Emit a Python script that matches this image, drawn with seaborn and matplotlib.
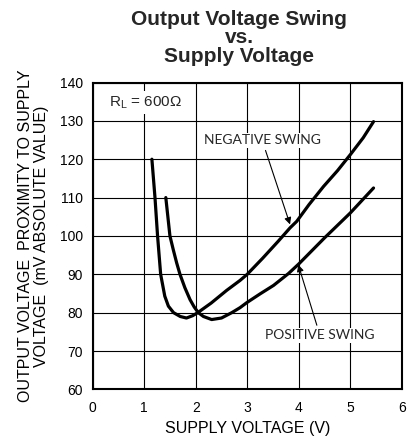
import matplotlib
matplotlib.use("Agg")
import matplotlib.pyplot as plt
import seaborn as sns

# --- DATA ---
neg_v = [1.15, 1.21, 1.26, 1.32, 1.40, 1.47, 1.57, 1.70, 1.82, 1.94, 2.04, 2.30, 2.60,
         2.86, 3.00, 3.30, 3.60, 3.83, 3.96, 4.20, 4.48, 4.75, 5.00, 5.25, 5.45]
neg_mv = [120, 110, 100, 90, 84.3, 81.7, 80, 79, 78.6, 79.2, 80, 82.5, 85.8,
          88.4, 90, 94.2, 98.6, 102.1, 103.8, 108.2, 112.9, 117, 121.2, 125.6, 129.8]

pos_v = [1.42, 1.46, 1.50, 1.565, 1.63, 1.695, 1.79, 1.89, 1.97, 2.05, 2.15, 2.31,
         2.50, 2.70, 2.86, 2.99, 3.25, 3.51, 3.80, 4.00, 4.50, 5.00, 5.45]
pos_mv = [110, 105, 100, 96.4, 93, 90, 86.5, 83.4, 81.5, 80, 79, 78.2,
          78.6, 80, 81.3, 82.6, 84.9, 87.1, 90.2, 92.7, 99.5, 106, 112.5]

x_ticks = [0, 1, 2, 3, 4, 5, 6]
y_ticks = [60, 70, 80, 90, 100, 110, 120, 130, 140]

sns.set_theme(style="white")
plt.rcParams['font.family'] = ['Liberation Sans', 'DejaVu Sans']

fig = plt.figure(figsize=(4.08, 4.46), dpi=100)
ax = fig.add_axes([0.227, 0.127, 0.758, 0.688])

sns.lineplot(x=neg_v, y=neg_mv, ax=ax, color="black", lw=2.3, sort=False, estimator=None)
sns.lineplot(x=pos_v, y=pos_mv, ax=ax, color="black", lw=2.3, sort=False, estimator=None)

ax.set_xlim(0, 6)
ax.set_ylim(60, 140)
ax.set_xticks(x_ticks)
ax.set_yticks(y_ticks)
ax.grid(True, color="black", lw=0.8)
ax.set_axisbelow(True)
for s in ax.spines.values():
    s.set_color("black")
    s.set_linewidth(1.5)
ax.tick_params(length=0, labelsize=10, colors="black")
ax.tick_params(axis="x", pad=8.5)
ax.tick_params(axis="y", pad=7)

ax.set_xlabel("SUPPLY VOLTAGE (V)", fontsize=11.5, color="black", labelpad=4)
ax.set_ylabel("OUTPUT VOLTAGE  PROXIMITY TO SUPPLY\nVOLTAGE  (mV ABSOLUTE VALUE)",
              fontsize=11.5, color="black", linespacing=1.05)
ax.yaxis.set_label_coords(-0.142, 0.5)

fig.text(0.586, 0.978, "Output Voltage Swing\nvs.\nSupply Voltage", fontsize=15,
         fontweight="bold", ha="center", va="top", linespacing=0.97)

ax.text(0.32, 134.8, "R$_\\mathregular{L}$ = 600Ω", fontsize=11, va="center", ha="left",
        bbox=dict(facecolor="white", edgecolor="none", pad=2))

ann_font = ['Lato', 'DejaVu Sans']
ax.annotate("NEGATIVE SWING", xy=(3.83, 103), xytext=(3.29, 124.9), fontsize=10,
            family=ann_font, ha="center", va="center",
            bbox=dict(facecolor="white", edgecolor="none", pad=1),
            arrowprops=dict(arrowstyle="-|>", color="black", lw=0.8, shrinkA=2, shrinkB=0,
                            mutation_scale=10))
ax.annotate("POSITIVE SWING", xy=(3.99, 92.5), xytext=(4.41, 74.1), fontsize=10,
            family=ann_font, ha="center", va="center",
            bbox=dict(facecolor="white", edgecolor="none", pad=1),
            arrowprops=dict(arrowstyle="-|>", color="black", lw=0.8, shrinkA=2, shrinkB=0,
                            mutation_scale=10))

fig.savefig("out.png", dpi=100, facecolor="white")
